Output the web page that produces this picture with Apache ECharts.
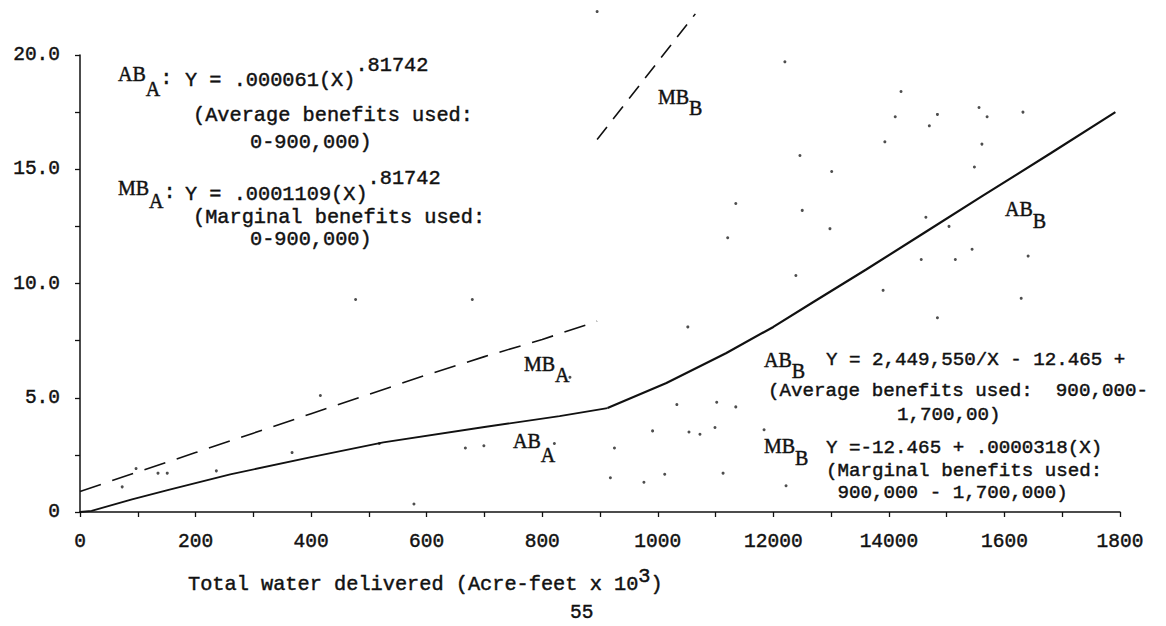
<!DOCTYPE html>
<html>
<head>
<meta charset="utf-8">
<script src="https://cdn.jsdelivr.net/npm/echarts/dist/echarts.min.js"></script>
<style>
  html, body { margin: 0; padding: 0; background: #fff; }
  #chart { width: 1166px; height: 626px; }
</style>
</head>
<body>
<div id="chart"></div>
<script>
// Tick labels as typed on the original sheet
const xTickLabels = {0: '0', 200: '200', 400: '400', 600: '600', 800: '800',
  1000: '1000', 1200: '12000', 1400: '14000', 1600: '1600', 1800: '1800'};
const yTickLabels = {0: '0', 5: '5.0', 10: '10.0', 15: '15.0', 20: '20.0'};

// Average benefits, district A (0-900,000 acre-feet)
const abA = [[0, 0], [20, 0.05], [90, 0.55], [155, 0.98], [260, 1.65], [400, 2.4],
  [525, 3.05], [700, 3.72], [830, 4.2], [913, 4.55]];
// Average benefits, district B (900,000-1,700,000)
const abB = [[913, 4.55], [1015, 5.65], [1118, 6.95], [1200, 8.1], [1270, 9.2],
  [1360, 10.6], [1460, 12.2], [1560, 13.8], [1680, 15.7], [1792, 17.5]];
// Marginal benefits, district A
const mbA = [[0, 0.9], [100, 1.75], [200, 2.6], [300, 3.45], [400, 4.3], [500, 5.15],
  [600, 6.0], [700, 6.8], [800, 7.55], [895, 8.35]];
// Marginal benefits, district B
const mbB = [[895, 16.3], [1065, 21.8]];
// Observed points
const observations = [
  [1220, 19.7], [1421, 18.4], [1411, 17.3], [1484, 17.4], [1470, 16.9], [1556, 17.7],
  [1570, 17.3], [1632, 17.5], [1393, 16.2], [1561, 16.1], [1246, 15.6], [1301, 14.9],
  [1548, 15.1], [1135, 13.5], [1250, 13.2], [1298, 12.4], [1121, 12.0], [1464, 12.9],
  [1504, 12.5], [1544, 11.5], [1456, 11.05], [1515, 11.05], [1641, 11.2], [1239, 10.35],
  [1390, 9.7], [1629, 9.35], [1484, 8.5], [477, 9.3], [679, 9.3], [416, 5.1],
  [73, 1.1], [97, 1.9], [135, 1.7], [151, 1.7], [236, 1.8], [367, 2.6], [518, 3.0],
  [578, 0.35], [667, 2.8], [699, 2.9], [821, 3.0], [848, 5.9], [1052, 8.1],
  [1033, 4.7], [1102, 4.8], [1135, 4.6], [991, 3.55], [1054, 3.5], [1073, 3.4],
  [1099, 3.7], [1184, 3.6], [925, 2.8], [918, 1.5], [976, 1.3], [1012, 1.65],
  [1113, 1.7], [1222, 1.15], [895, 21.9]
];

const INK = '#111';
const MONO_FAMILY = '"Liberation Mono", "DejaVu Sans Mono", monospace';
const monoFont = size => size + 'px ' + MONO_FAMILY;
const SERIF = '20px "Liberation Serif", "DejaVu Serif", serif';
const INK_STROKE = {fill: INK, stroke: INK, lineWidth: 0.45};

// typed text (one or more lines), vertically centred on y
function txt(text, x, y, size, lineHeight) {
  const style = Object.assign({
    text: text, font: monoFont(size || 19.2),
    align: 'left', verticalAlign: 'middle',
    textAlign: 'left', textVerticalAlign: 'middle'
  }, INK_STROKE);
  if (lineHeight) style.lineHeight = lineHeight;
  return {type: 'text', x: x, y: y, z: 100, style: style};
}

// curve name with a subscript letter (and optional trailing colon);
// y is the centre of the main letters
function named(main, sub, x, y, drop, colon) {
  const rich = {
    n: Object.assign({font: SERIF, lineHeight: 20, verticalAlign: 'top'}, INK_STROKE),
    s: Object.assign({font: SERIF, lineHeight: 20, verticalAlign: 'top',
      padding: [drop, 0, 0, 0]}, INK_STROKE),
    c: Object.assign({font: monoFont(20.3), lineHeight: 20, verticalAlign: 'top',
      padding: [4, 0, 0, 0]}, INK_STROKE)
  };
  return {
    type: 'text', x: x, y: y - 10, z: 100,
    style: {
      text: '{n|' + main + '}{s|' + sub + '}' + (colon ? '{c|:}' : ''),
      font: SERIF, align: 'left', verticalAlign: 'top',
      textAlign: 'left', textVerticalAlign: 'top', rich: rich
    }
  };
}

// text line with a raised exponent (and optional tail on the main line);
// y is the centre of the main line
function powerLine(main, exp, x, y, rise, size, tail) {
  const f = monoFont(size);
  const base = Object.assign({font: f, lineHeight: 20, verticalAlign: 'top',
    padding: [rise, 0, 0, 0]}, INK_STROKE);
  return {
    type: 'text', x: x, y: y - 10 - rise, z: 100,
    style: {
      text: '{m|' + main + '}{p|' + exp + '}' + (tail ? '{t|' + tail + '}' : ''),
      font: f, align: 'left', verticalAlign: 'top',
      textAlign: 'left', textVerticalAlign: 'top',
      rich: {
        m: base,
        p: Object.assign({font: f, lineHeight: 20, verticalAlign: 'top'}, INK_STROKE),
        t: base
      }
    }
  };
}

const LEFT = 20.3;
const annotations = [
  // AB_A equation block
  named('AB', 'A', 118, 74, 15, true),
  powerLine('Y = .000061(X)', '.81742', 185, 80, 15, LEFT),
  txt('(Average benefits used:', 193, 115, LEFT),
  txt('0-900,000)', 250, 142, LEFT),
  // MB_A equation block
  named('MB', 'A', 118, 188, 13, true),
  powerLine('Y = .0001109(X)', '.81742', 185, 194, 16, LEFT),
  txt('(Marginal benefits used:', 193, 217, LEFT),
  txt('0-900,000)', 250, 239, LEFT),
  // curve names
  named('MB', 'B', 658, 97, 11),
  named('AB', 'B', 1005, 209, 12),
  named('MB', 'A', 524, 364, 11),
  named('AB', 'A', 513, 441, 14),
  // AB_B equation block
  named('AB', 'B', 764, 360, 11),
  txt('Y = 2,449,550/X - 12.465 +', 826, 360),
  txt('(Average benefits used:  900,000-', 768, 391),
  txt('1,700,00)', 897, 415),
  // MB_B equation block
  named('MB', 'B', 764, 446, 12),
  txt('Y =-12.465 + .0000318(X)', 826, 448),
  txt('(Marginal benefits used:\n 900,000 - 1,700,000)', 826, 482, 19.2, 22),
  // axis title and page number
  powerLine('Total water delivered (Acre-feet x 10', '3', 188, 584, 8, 20.3, ')'),
  txt('55', 570, 613, 19.5)
];

const chart = echarts.init(document.getElementById('chart'), null, {renderer: 'svg'});
chart.setOption({
  backgroundColor: '#fff',
  animation: false,
  grid: {left: 80, right: 46, top: 55, bottom: 114},
  xAxis: {
    type: 'value', min: 0, max: 1800, interval: 100,
    splitLine: {show: false},
    axisLine: {lineStyle: {color: INK, width: 1.5}},
    axisTick: {length: 5, lineStyle: {color: INK, width: 1.3}},
    axisLabel: {
      color: INK, fontFamily: MONO_FAMILY, fontSize: 19.5,
      textBorderColor: INK, textBorderWidth: 0.45,
      margin: 20, showMinLabel: true, showMaxLabel: true, hideOverlap: false,
      formatter: v => (xTickLabels[v] !== undefined ? xTickLabels[v] : '')
    }
  },
  yAxis: {
    type: 'value', min: 0, max: 20, interval: 2.5,
    splitLine: {show: false},
    axisLine: {show: true, lineStyle: {color: INK, width: 1.5}},
    axisTick: {show: true, length: 5, lineStyle: {color: INK, width: 1.3}},
    axisLabel: {
      color: INK, fontFamily: MONO_FAMILY, fontSize: 19.5,
      textBorderColor: INK, textBorderWidth: 0.45,
      margin: 20, padding: [6, 0, 0, 0], showMinLabel: true, showMaxLabel: true,
      formatter: v => (yTickLabels[v] !== undefined ? yTickLabels[v] : '')
    }
  },
  series: [
    {name: 'AB_A', type: 'line', data: abA, showSymbol: false, symbol: 'none',
      lineStyle: {color: INK, width: 1.8}},
    {name: 'AB_B', type: 'line', data: abB, showSymbol: false, symbol: 'none',
      lineStyle: {color: INK, width: 2.2}},
    {name: 'MB_A', type: 'line', data: mbA, showSymbol: false, symbol: 'none',
      lineStyle: {color: INK, width: 1.6, type: [22, 12]}},
    {name: 'MB_B', type: 'line', data: mbB, showSymbol: false, symbol: 'none', clip: false,
      lineStyle: {color: INK, width: 1.6, type: [16, 10]}},
    {name: 'observed', type: 'scatter', data: observations, clip: false,
      symbol: 'circle', symbolSize: 3, itemStyle: {color: '#222'}}
  ],
  graphic: annotations
});
</script>
</body>
</html>
